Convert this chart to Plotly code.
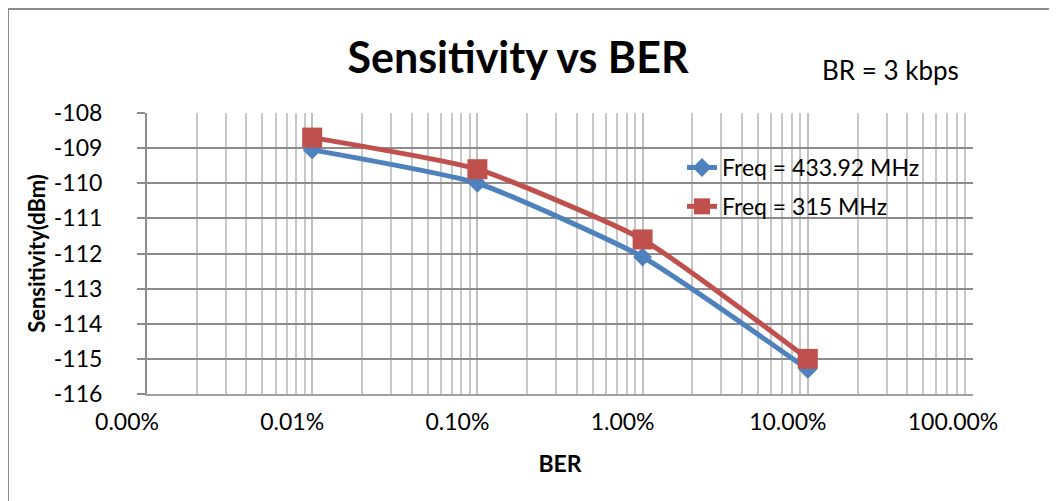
import plotly.graph_objects as go

# ---- data ----
ber = [0.0001, 0.001, 0.01, 0.1]
sens_433 = [-109.05, -110.0, -112.1, -115.3]
sens_315 = [-108.7, -109.6, -111.6, -115.0]
series_names = ["Freq = 433.92 MHz", "Freq = 315 MHz"]
x_tickvals = [0.00001, 0.0001, 0.001, 0.01, 0.1, 1.0]
x_ticktext = ["0.00%", "0.01%", "0.10%", "1.00%", "10.00%", "100.00%"]
y_tickvals = [-108, -109, -110, -111, -112, -113, -114, -115, -116]
y_ticktext = ["-108", "-109", "-110", "-111", "-112", "-113", "-114", "-115", "-116"]

OFF = 8  # page body margin
W, H = 1057 - OFF, 501 - OFF
# plot area in page pixels
PL, PR, PT, PB = 147, 973, 113, 394
L, R, T, B = PL - OFF, PR - OFF, PT - OFF, PB - OFF

BLUE = "#4F81BD"
RED = "#C0504D"
FONT = "Lato"

minor_vals = [m * 10 ** e for e in range(-5, 0) for m in range(2, 10)]


def px(xpage):
    return (xpage - PL) / (PR - PL)


def py(ypage):
    return (PB - ypage) / (PB - PT)


fig = go.Figure()
fig.add_trace(go.Scatter(
    x=ber, y=sens_433, name=series_names[0], mode="lines+markers",
    line=dict(color=BLUE, width=5, shape="spline", smoothing=0.5),
    marker=dict(symbol="diamond", size=14.5, color=BLUE),
    legendgroup="a"))
fig.add_trace(go.Scatter(
    x=ber, y=sens_315, name=series_names[1], mode="lines+markers",
    line=dict(color=RED, width=5, shape="spline", smoothing=0.5),
    marker=dict(symbol="square", size=20, color=RED),
    legendgroup="b"))

fig.update_layout(
    width=W, height=H,
    margin=dict(l=L, r=W - R, t=T, b=H - B, pad=0, autoexpand=False),
    paper_bgcolor="white", plot_bgcolor="white",
    font=dict(family=FONT, color="black", size=20),
    title=dict(text="<b>Sensitivity vs BER</b>", x=(518 - OFF) / W, xanchor="center",
               y=1 - (58 - OFF) / H, yanchor="middle",
               font=dict(family=FONT, size=43, color="black")),
    showlegend=True,
    legend=dict(x=px(682), y=py(146), xanchor="left", yanchor="top",
                bgcolor="rgba(0,0,0,0)", font=dict(family=FONT, size=23, color="black"),
                tracegroupgap=6, itemwidth=30),
    xaxis=dict(type="log", range=[-5, 0], tickmode="array", tickvals=x_tickvals,
               ticktext=x_ticktext, showgrid=True, gridcolor="#c0c0c0", gridwidth=2,
               showline=True, linecolor="#a0a0a0", linewidth=2, ticks="",
               ticklabelshift=-20, ticklabelstandoff=6, automargin=False,
               tickfont=dict(family=FONT, size=23),
               minor=dict(tickvals=minor_vals, showgrid=True, gridcolor="#c8c8c8", gridwidth=2),
               title=dict(text="<b>BER</b>", font=dict(family=FONT, size=23), standoff=22),
               zeroline=False),
    yaxis=dict(range=[-116, -108], tickmode="array", tickvals=y_tickvals, ticktext=y_ticktext,
               showgrid=True, gridcolor="#8c8c8c", gridwidth=2,
               showline=True, linecolor="#8c8c8c", linewidth=2,
               ticks="outside", ticklen=8, tickcolor="#8c8c8c", tickwidth=2,
               ticklabelstandoff=30, automargin=False,
               tickfont=dict(family=FONT, size=23),
               title=dict(text="<b>Sensitivity(dBm)</b>", font=dict(family=FONT, size=22), standoff=2),
               zeroline=False),
    annotations=[dict(text="BR = 3 kbps", xref="paper", yref="paper",
                      x=px(820), y=py(70), xanchor="left", yanchor="middle",
                      showarrow=False, font=dict(family=FONT, size=26, color="black"))],
    shapes=[dict(type="rect", xref="paper", yref="paper",
                 x0=px(8), x1=px(1050),
                 y0=py(530), y1=py(9),
                 line=dict(color="#8c8c8c", width=2), fillcolor="rgba(0,0,0,0)", layer="below")],
)

fig.write_html("out.html")
